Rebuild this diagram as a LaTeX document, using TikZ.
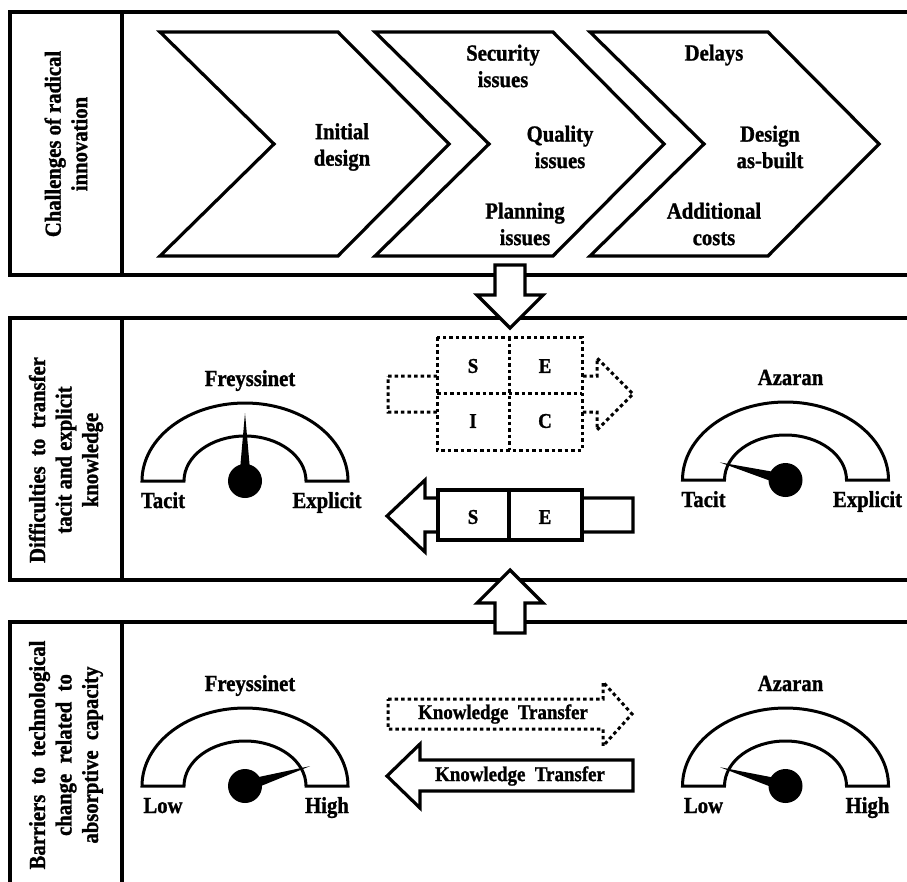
\documentclass[tikz,border=0pt]{standalone}
\usepackage{fontspec}
\setmainfont[FakeStretch=0.9,BoldFeatures={FakeBold=1.2}]{Liberation Serif}
\usepackage{tikz}
\usetikzlibrary{positioning,calc}

\newcommand{\bigtxt}{\fontsize{23}{26.5}\selectfont\bfseries}
\newcommand{\smalltxt}{\fontsize{21}{24}\selectfont\bfseries}

% gauge: centre x, base y, needle angle, name, top / left / right label
\newcommand{\gauge}[7]{%
  \draw[gaugeline] (#1-103,#2) arc[start angle=180,end angle=0,x radius=103pt,y radius=78pt]
    -- (#1+61,#2) arc[start angle=0,end angle=180,x radius=61pt,y radius=45pt] -- cycle;
  \fill[shift={(#1,#2)},rotate=#3] (0,-6) -- (68,0) -- (0,6) -- cycle;
  \fill (#1,#2) circle[radius=17pt];
  \node[lbl,anchor=base] (#4-top) at (#1+5,#2-95) {#5};
  \node[lbl,anchor=base] (#4-left) at (#1-82,#2+27) {#6};
  \node[lbl,anchor=base] (#4-right) at (#1+82,#2+27) {#7};
}

\begin{document}
\begin{tikzpicture}[x=1pt,y=-1pt,
  panel/.style={line width=3.2pt},
  dotline/.style={line width=3pt,dash pattern=on 3.5pt off 3pt},
  gaugeline/.style={line width=3pt,fill=white},
  lbl/.style={font=\bigtxt,inner sep=0pt,align=center},
  cell/.style={font=\smalltxt,inner sep=0pt,align=center}]

\useasboundingbox (0,0) rectangle (907,881);
\clip (0,0) rectangle (907,881);

% three panels
\draw[panel] (10,12) rectangle (916,275);
\draw[panel] (122,12) -- (122,275);
\draw[panel] (10,318) rectangle (916,580);
\draw[panel] (122,318) -- (122,580);
\draw[panel] (10,622) rectangle (916,900);
\draw[panel] (122,622) -- (122,900);

\node[lbl,rotate=90] (challenges) at (66,144) {Challenges of radical\\innovation};
\node[lbl,rotate=90] (difficulties) at (66,460) {Difficulties\ \ to\ \ transfer\\tacit and explicit\\knowledge};
\node[lbl,rotate=90] (barriers) at (66,755) {Barriers\ \ to\ \ technological\\change\ \ related\ \ to\\absorptive\ \ capacity};

% chevrons
\foreach \x in {160,375,590}{
  \draw[panel] (\x,32) -- (\x+178,32) -- (\x+289,144) -- (\x+178,256) -- (\x,256) -- (\x+114,144) -- cycle;
}
\node[lbl] (initial) at (342,147) {Initial\\design};
\node[lbl] (security) at (503,66) {Security\\issues};
\node[lbl] (quality) at (560,147) {Quality\\issues};
\node[lbl] (planning) at (525,224) {Planning\\issues};
\node[lbl] (delays) at (714,55) {Delays};
\node[lbl] (asbuilt) at (770,147) {Design\\as-built};
\node[lbl] (costs) at (714,224) {Additional\\costs};

% block arrows between panels
\draw[panel,fill=white] (495,265) -- (525,265) -- (525,295) -- (543,295) -- (510,328) -- (477,295) -- (495,295) -- cycle;
\draw[panel,fill=white] (495,633) -- (525,633) -- (525,603) -- (543,603) -- (510,570) -- (477,603) -- (495,603) -- cycle;

% SECI, dotted
\draw[dotline,fill=white] (388,376) -- (597,376) -- (597,358) -- (633,394) -- (597,430) -- (597,412) -- (388,412) -- cycle;
\draw[dotline,fill=white] (437,337) rectangle (582,450);
\draw[dotline] (509,337) -- (509,450);
\draw[dotline] (437,393) -- (582,393);
\node[cell] (seciS) at (473,366) {S};
\node[cell] (seciE) at (545,366) {E};
\node[cell] (seciI) at (473,421) {I};
\node[cell] (seciC) at (545,421) {C};

% SE, solid
\draw[panel,fill=white] (387,516) -- (425,480) -- (425,498) -- (633,498) -- (633,532) -- (425,532) -- (425,552) -- cycle;
\draw[panel,fill=white] (438,490) rectangle (582,540);
\draw[panel] (509,490) -- (509,540);
\node[cell] (seS) at (473,517) {S};
\node[cell] (seE) at (545,517) {E};

% knowledge transfer arrows
\draw[dotline,fill=white] (388,699) -- (603,699) -- (603,682) -- (632,714) -- (603,746) -- (603,729) -- (388,729) -- cycle;
\node[cell] (ktright) at (503,714) {Knowledge\ \ Transfer};
\draw[panel,fill=white] (387,776) -- (420,744) -- (420,760) -- (633,760) -- (633,791) -- (420,791) -- (420,808) -- cycle;
\node[cell] (ktleft) at (520,776) {Knowledge\ \ Transfer};

% gauges
\gauge{245}{481}{90}{freyA}{Freyssinet}{Tacit}{Explicit}
\gauge{785.5}{480}{165}{azarA}{Azaran}{Tacit}{Explicit}
\gauge{245}{786}{17}{freyB}{Freyssinet}{Low}{High}
\gauge{785.5}{786}{164}{azarB}{Azaran}{Low}{High}

\end{tikzpicture}
\end{document}
